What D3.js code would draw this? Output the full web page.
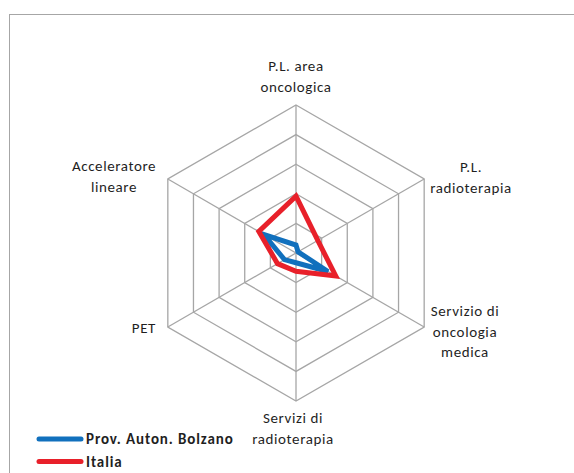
<!DOCTYPE html>
<html>
<head>
<meta charset="utf-8">
<script src="https://cdn.jsdelivr.net/npm/d3@7"></script>
<style>
    body { margin: 0; background: #fff; }
    text { font-family: Carlito, Calibri, Lato, sans-serif; fill: #1f1f1f; }
</style>
</head>
<body>
<div id="chart"></div>
<script>
const width = 574;
const height = 473;

const axes = [
    ["P.L. area", "oncologica"],
    ["P.L.", "radioterapia"],
    ["Servizio di", "oncologia", "medica"],
    ["Servizi di", "radioterapia"],
    ["PET"],
    ["Acceleratore", "lineare"],
];
const ringTicks = [1, 2, 3, 4, 5];
const seriesNames = ["Prov. Auton. Bolzano", "Italia"];
const bolzano = [0.27, 0.08, 1.25, 0.33, 0.45, 1.25];
const italia = [1.92, 0.85, 1.55, 0.62, 0.72, 1.45];
const colors = ["#1170bd", "#e8202a"];

const cx = 296;
const cy = 253;
const radius = 148;

const svg = d3
    .select("#chart")
    .append("svg")
    .attr("width", width)
    .attr("height", height);

// frame of the chart area
svg.append("rect")
    .attr("x", 9.5)
    .attr("y", 14.5)
    .attr("width", width + 10)
    .attr("height", height + 10)
    .attr("fill", "none")
    .attr("stroke", "#a6a6a6")
    .attr("stroke-width", 1);

const r = d3.scaleLinear().domain([0, 5]).range([0, radius]);
const angle = d3
    .scaleLinear()
    .domain([0, axes.length])
    .range([0, 2 * Math.PI]);

const g = svg.append("g").attr("transform", `translate(${cx},${cy})`);

const point = (i, v) => [
    r(v) * Math.sin(angle(i)),
    -r(v) * Math.cos(angle(i)),
];

// grid rings
const gridGroup = g.append("g").attr("id", "grid");
gridGroup
    .selectAll("polygon")
    .data(ringTicks)
    .enter()
    .append("polygon")
    .attr("points", (t) => axes.map((a, i) => point(i, t).join(",")).join(" "))
    .attr("fill", "none")
    .attr("stroke", "#a6a6a6")
    .attr("stroke-width", 1.3);

gridGroup
    .selectAll("line")
    .data(axes)
    .enter()
    .append("line")
    .attr("x1", 0)
    .attr("y1", 0)
    .attr("x2", (d, i) => point(i, 5)[0])
    .attr("y2", (d, i) => point(i, 5)[1])
    .attr("stroke", "#a6a6a6")
    .attr("stroke-width", 1.3);

// axis labels: [x, first baseline, anchor] relative to center
const labelPos = [
    [0, -182, "middle"],
    [175, -81, "middle"],
    [169, 63, "middle"],
    [-3, 170, "middle"],
    [-140, 80, "end"],
    [-182, -82, "middle"],
];
const labelGroup = g.append("g").attr("id", "labels");
axes.forEach((lines, i) => {
    const t = labelGroup
        .append("text")
        .attr("x", labelPos[i][0])
        .attr("y", labelPos[i][1])
        .attr("text-anchor", labelPos[i][2])
        .style("font-size", "15px")
        .style("letter-spacing", "0.6px");
    lines.forEach((l, k) => {
        t.append("tspan")
            .attr("x", labelPos[i][0])
            .attr("dy", k === 0 ? 0 : 20.5)
            .text(l);
    });
});

// series
const line = d3
    .lineRadial()
    .angle((d, i) => angle(i))
    .radius((d) => r(d))
    .curve(d3.curveLinearClosed);

const seriesGroup = g.append("g").attr("id", "series");
[bolzano, italia].forEach((values, k) => {
    seriesGroup
        .append("path")
        .attr("d", line(values))
        .attr("fill", "none")
        .attr("stroke", colors[k])
        .attr("stroke-width", 5)
        .attr("stroke-linejoin", "miter");
});

// legend
const legend = svg.append("g").attr("id", "legend");
seriesNames.forEach((name, k) => {
    const y = 439 + k * 22.5;
    legend
        .append("line")
        .attr("x1", 39)
        .attr("x2", 81)
        .attr("y1", y)
        .attr("y2", y)
        .attr("stroke", colors[k])
        .attr("stroke-width", 5)
        .attr("stroke-linecap", "round");
    legend
        .append("text")
        .attr("x", 86)
        .attr("y", y + 5)
        .text(name)
        .style("font-size", "15px")
        .style("font-weight", "bold")
        .style("letter-spacing", "0.9px");
});
</script>
</body>
</html>
